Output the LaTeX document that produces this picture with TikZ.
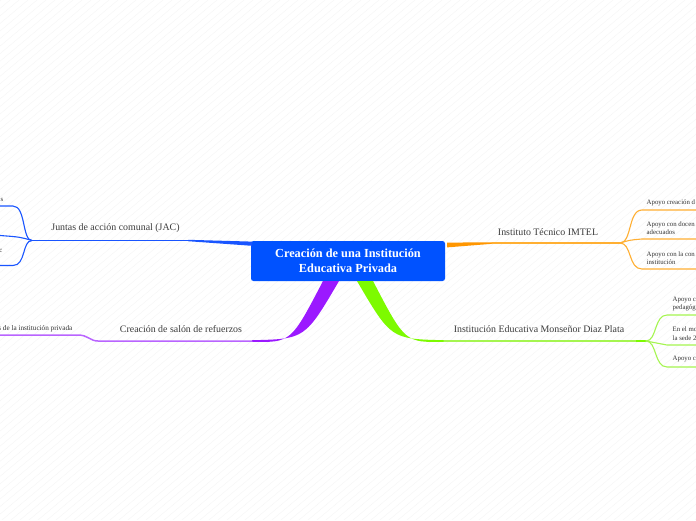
\documentclass[tikz,border=0pt]{standalone}
\usepackage{fontspec}
\setmainfont{Liberation Serif}
\definecolor{cblue}{RGB}{0,82,255}
\definecolor{jacblue}{RGB}{25,85,255}
\definecolor{cpurple}{RGB}{155,25,255}
\definecolor{lpurple}{RGB}{185,100,255}
\definecolor{corange}{RGB}{255,150,0}
\definecolor{lorange}{RGB}{255,175,50}
\definecolor{cgreen}{RGB}{125,250,0}
\definecolor{lgreen}{RGB}{165,245,80}
\definecolor{txt}{RGB}{60,60,60}
\begin{document}
\begin{tikzpicture}[x=1pt,y=-1pt,
  rootbox/.style={fill=cblue, rounded corners=2.5pt, minimum width=194pt, minimum height=40pt,
    text=white, align=center, inner sep=0pt, font=\fontsize{12.3}{14.5}\selectfont\bfseries},
  mainlabel/.style={text=txt, inner sep=0pt, font=\fontsize{9.9}{11}\selectfont},
  leaf/.style={text=black!80, inner sep=0pt, align=left, font=\fontsize{6.8}{8.6}\selectfont},
  bgline/.style={black!4, line width=0.4pt},
  thinb/.style={line width=1.1pt, line cap=round},
  mainb/.style={line width=1.5pt, line cap=round}]
\useasboundingbox (0,0) rectangle (696,520);
\fill[white] (0,0) rectangle (696,520);
\begin{scope}
\clip (0,0) rectangle (696,520);
\foreach \i in {-700,-691,...,700} \draw[bgline] (\i,520) -- (\i+620,0);
\end{scope}

% root
\node[rootbox] (root) at (348,261) {Creación de una Institución\\Educativa Privada};

% ---------- JAC (blue) ----------
\coordinate (jacS) at (251,243);
\coordinate (jacT) at (188,240.5);
\coordinate (jacF) at (32,240.5);
\coordinate (jac1) at (0,206);
\coordinate (jac2) at (0,235.5);
\coordinate (jac3) at (0,265.5);
\fill[jacblue] (252,241.6) -- (188,239.8) -- (188,241.2) -- (252,245.8) -- cycle;
\draw[jacblue, mainb] (jacT) -- (jacF);
\draw[jacblue, thinb] (jacF) .. controls (22,240.5) and (26,206) .. (13,206) -- (jac1);
\draw[jacblue, thinb] (jacF) .. controls (20,237) .. (jac2);
\draw[jacblue, thinb] (jacF) .. controls (22,240.5) and (26,265.5) .. (13,265.5) -- (jac3);
\node[mainlabel] (jacL) at (115.5,228) {Juntas de acción comunal (JAC)};
\node[leaf, anchor=east] (jacA) at (3.5,199.5) {s};
\node[leaf, anchor=east] (jacB) at (2.5,251) {c};

% ---------- salón de refuerzos (purple) ----------
\coordinate (purS) at (331,282);
\coordinate (purT) at (252,341);
\coordinate (purF) at (98,341);
\coordinate (pur1) at (0,335);
\fill[cpurple] (323,281) .. controls (291,342.5) .. (252,341.8)
   -- (252,340.2) .. controls (305,339) .. (339,281) -- cycle;
\draw[lpurple, mainb] (purT) -- (purF) .. controls (90,341) and (88,335) .. (78,335) -- (pur1);
\node[mainlabel] (purL) at (181,329) {Creación de salón de refuerzos};
\node[leaf, anchor=east, font=\fontsize{7.2}{8.6}\selectfont] (purA) at (72.5,329) {s de la institución privada};

% ---------- IMTEL (orange) ----------
\coordinate (oraS) at (447,245);
\coordinate (oraT) at (492,243);
\coordinate (oraF) at (620,243);
\coordinate (ora1) at (696,210);
\coordinate (ora2) at (696,239);
\coordinate (ora3) at (696,269);
\fill[corange] (447,242.6) -- (492,242.3) -- (492,243.8) -- (447,247.4) -- cycle;
\draw[lorange, mainb] (oraT) -- (oraF);
\draw[lorange, thinb] (oraF) .. controls (632,243) and (628,210) .. (642,210) -- (ora1);
\draw[lorange, thinb] (oraF) .. controls (630,240) .. (642,239) -- (ora2);
\draw[lorange, thinb] (oraF) .. controls (632,243) and (628,269) .. (642,269) -- (ora3);
\node[mainlabel] (oraL) at (548,232) {Instituto Técnico IMTEL};
\node[leaf, anchor=west] (oraA) at (646.5,203) {Apoyo creación d};
\node[leaf, anchor=west] (oraB) at (646.5,228) {Apoyo con docen\\adecuados};
\node[leaf, anchor=west] (oraC) at (646.5,258) {Apoyo con la con\\institución};

% ---------- Monseñor Diaz Plata (green) ----------
\coordinate (greS) at (365,282);
\coordinate (greT) at (444,341);
\coordinate (greF) at (646,341);
\coordinate (gre1) at (696,315);
\coordinate (gre2) at (696,345);
\coordinate (gre3) at (696,367);
\fill[cgreen] (357,281) .. controls (391,339) .. (444,340.2)
   -- (444,341.8) .. controls (405,342.5) .. (373,281) -- cycle;
\draw[lgreen, mainb] (greT) -- (greF);
\draw[cgreen, line width=2pt] (636,341) -- (greF);
\draw[lgreen, thinb] (greF) .. controls (657,341) and (654,315) .. (667,315) -- (gre1);
\draw[lgreen, thinb] (greF) .. controls (657,343) .. (667,345) -- (gre2);
\draw[lgreen, thinb] (greF) .. controls (657,341) and (654,367) .. (667,367) -- (gre3);
\node[mainlabel] (greL) at (539,329) {Institución Educativa Monseñor Diaz Plata};
\node[leaf, anchor=west] (greA) at (672.5,304) {Apoyo c\\pedagóg};
\node[leaf, anchor=west] (greB) at (672.5,333.5) {En el mo\\la sede 2};
\node[leaf, anchor=west] (greC) at (672.5,358.5) {Apoyo c};
\end{tikzpicture}
\end{document}
